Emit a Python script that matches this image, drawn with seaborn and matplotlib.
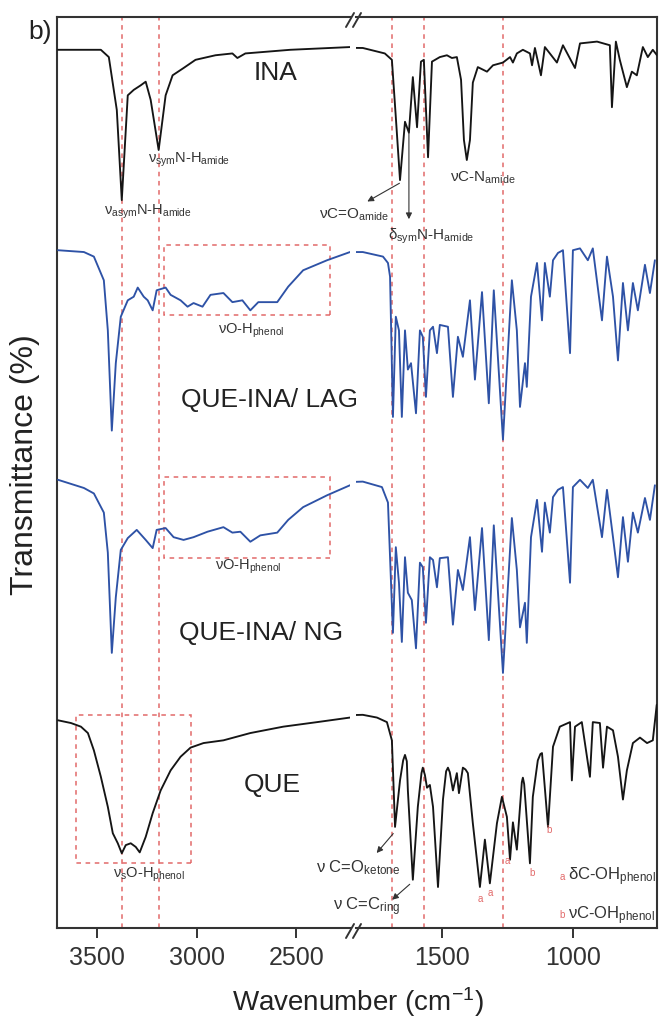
import matplotlib
matplotlib.use('Agg')
import matplotlib.pyplot as plt
from matplotlib.patches import Rectangle
from matplotlib.lines import Line2D
import seaborn as sns

# --- Spectra: wavenumber (cm-1) and stacked transmittance (%) ---
INA_WN = [3695, 3480, 3440, 3400, 3375, 3345, 3315, 3280, 3255, 3230, 3190, 3155, 3120, 3065, 3005,
          2905, 2820, 2795, 2755, 2530, 2230,
          1802, 1718, 1691, 1676, 1660, 1641, 1626, 1611, 1595, 1580, 1569, 1553, 1538, 1508, 1481,
          1462, 1443, 1427, 1416, 1405, 1393, 1382, 1363, 1328, 1305, 1267, 1240, 1229, 1214, 1191,
          1164, 1156, 1145, 1122, 1107, 1061, 1038, 992, 973, 908, 859, 851, 836, 821, 794, 775, 756,
          733, 714, 695, 679]
INA_T = [96.4, 96.4, 95.6, 89.8, 79.9, 91.4, 92.0, 92.5, 92.9, 90.9, 85.4, 91.4, 93.6, 94.4, 95.3,
         95.8, 96.0, 95.5, 96.0, 96.4, 96.7,
         96.6, 96.0, 95.3, 89.0, 82.1, 88.5, 87.3, 93.4, 87.9, 95.1, 95.3, 84.6, 95.1, 95.6, 95.8,
         95.5, 95.6, 93.1, 86.5, 84.3, 86.5, 92.8, 94.5, 94.0, 94.7, 95.0, 95.6, 95.0, 96.0, 96.4,
         96.0, 94.7, 96.6, 93.6, 96.7, 95.0, 96.9, 94.4, 97.1, 97.3, 96.9, 90.1, 97.3, 95.3, 92.3,
         94.0, 93.6, 96.7, 95.6, 96.4, 95.8]

LAG_WN = [3695, 3565, 3515, 3465, 3445, 3425, 3405, 3380, 3345, 3315, 3295, 3265, 3245, 3220, 3200,
          3155, 3130, 3080, 3045, 3015, 2970, 2930, 2865, 2820, 2770, 2730, 2690, 2595, 2540, 2465,
          2345, 2230,
          1802, 1725, 1706, 1698, 1687, 1676, 1664, 1653, 1641, 1630, 1618, 1599, 1584, 1573, 1561,
          1546, 1534, 1519, 1508, 1477, 1458, 1439, 1420, 1393, 1374, 1347, 1321, 1302, 1267, 1233,
          1214, 1202, 1183, 1176, 1160, 1137, 1118, 1107, 1088, 1076, 1057, 1038, 1011, 1000, 973,
          943, 924, 889, 870, 847, 828, 809, 790, 771, 752, 725, 706, 687]
LAG_T = [74.4, 74.2, 73.7, 71.1, 65.6, 54.6, 62.0, 67.1, 68.9, 69.3, 70.3, 69.3, 68.9, 67.8, 70.0,
         70.3, 69.5, 68.9, 68.2, 68.6, 68.2, 69.5, 69.7, 68.7, 68.9, 67.8, 68.7, 68.7, 70.4, 72.2,
         73.3, 74.2,
         74.2, 73.7, 73.0, 71.5, 56.1, 67.1, 65.6, 56.1, 65.6, 61.3, 62.0, 56.5, 65.6, 64.9, 58.3,
         65.6, 66.0, 63.1, 66.2, 66.0, 58.3, 64.9, 62.7, 68.9, 60.2, 69.8, 57.6, 70.0, 53.6, 71.1,
         65.6, 57.2, 62.0, 59.4, 69.3, 73.0, 66.7, 73.0, 69.3, 73.3, 74.1, 74.4, 63.1, 74.4, 74.6,
         73.3, 74.6, 66.7, 73.7, 69.3, 62.3, 70.8, 65.6, 70.8, 67.8, 72.8, 69.7, 73.3]

NG_WN = [3695, 3565, 3515, 3465, 3445, 3425, 3405, 3380, 3345, 3300, 3255, 3220, 3200, 3155, 3115,
         3065, 3015, 2945, 2865, 2820, 2780, 2730, 2680, 2595, 2540, 2465, 2345, 2230,
         1802, 1729, 1706, 1687, 1676, 1664, 1653, 1641, 1630, 1615, 1599, 1584, 1573, 1561, 1546,
         1534, 1519, 1508, 1477, 1458, 1439, 1420, 1393, 1374, 1347, 1321, 1302, 1267, 1233, 1214,
         1202, 1183, 1176, 1160, 1137, 1118, 1107, 1088, 1076, 1057, 1038, 1011, 1000, 973, 943,
         924, 889, 870, 847, 828, 809, 790, 771, 752, 725, 706, 687]
NG_T = [49.2, 48.3, 47.7, 45.6, 41.2, 30.2, 36.3, 41.5, 42.8, 43.7, 42.6, 41.7, 43.7, 43.9, 42.9,
        42.6, 42.9, 43.5, 44.0, 43.4, 43.5, 42.4, 43.1, 43.4, 44.8, 46.2, 47.5, 48.6,
        49.0, 48.4, 46.7, 32.4, 41.8, 37.9, 31.4, 40.7, 36.8, 36.0, 30.7, 40.1, 39.6, 33.5, 40.7,
        40.4, 37.4, 40.6, 40.7, 33.3, 39.3, 37.1, 42.9, 34.9, 43.9, 31.6, 44.2, 28.0, 45.0, 39.3,
        33.0, 35.7, 31.3, 42.9, 47.0, 41.3, 46.7, 43.4, 47.3, 48.1, 48.4, 37.9, 48.4, 49.2, 48.3,
        49.2, 42.9, 48.1, 42.9, 38.5, 45.1, 40.2, 45.6, 43.4, 47.2, 44.8, 48.6]

QUE_WN = [3695, 3630, 3580, 3545, 3515, 3480, 3445, 3420, 3395, 3375, 3355, 3330, 3305, 3285, 3255,
          3220, 3180, 3130, 3080, 3030, 2965, 2865, 2730, 2565, 2395, 2230,
          1802, 1748, 1710, 1691, 1679, 1660, 1648, 1641, 1634, 1630, 1611, 1592, 1578, 1573, 1565,
          1557, 1546, 1534, 1515, 1496, 1484, 1477, 1470, 1458, 1443, 1435, 1420, 1410, 1401, 1382,
          1355, 1336, 1317, 1290, 1271, 1252, 1240, 1229, 1214, 1195, 1191, 1186, 1164, 1153, 1134,
          1124, 1118, 1095, 1076, 1050, 1011, 1004, 992, 966, 935, 924, 897, 885, 870, 847, 828,
          809, 794, 771, 744, 717, 695, 680]
QUE_T = [22.8, 22.5, 22.1, 21.4, 19.5, 16.6, 13.3, 10.4, 9.3, 8.2, 9.1, 9.3, 8.9, 8.3, 10.0,
         12.6, 15.1, 17.3, 18.8, 19.8, 20.3, 20.6, 21.4, 22.1, 22.6, 23.1,
         23.4, 23.1, 22.6, 20.6, 11.1, 16.2, 18.4, 19.0, 18.3, 15.1, 5.3, 13.3, 17.0, 17.6, 16.8,
         15.4, 15.7, 13.3, 4.5, 14.1, 17.2, 17.6, 17.1, 15.1, 17.0, 14.8, 17.6, 17.4, 17.0, 11.5,
         4.5, 9.7, 4.9, 11.5, 14.4, 12.2, 7.5, 11.6, 8.6, 16.0, 16.5, 15.8, 7.1, 14.4, 18.4,
         19.1, 19.2, 11.1, 19.9, 22.1, 22.6, 16.2, 22.1, 22.6, 16.6, 22.6, 22.5, 17.6, 22.1, 21.7, 18.8,
         14.1, 17.3, 20.3, 20.9, 20.3, 20.6, 24.5]

# reference band positions (dashed guides) and x tick labels
BANDS_LEFT = [3375, 3190]
BANDS_RIGHT = [1691, 1570, 1267]
TICKS_LEFT = [3500, 3000, 2500]
TICKS_RIGHT = [1500, 1000]

sns.set_style('ticks')
plt.rcParams['font.family'] = ['Liberation Sans', 'DejaVu Sans']
plt.rcParams['mathtext.default'] = 'regular'

BLACK = '#151515'
BLUE = '#2e52a6'
RED = '#e26a6a'
W, H = 660, 1021

fig = plt.figure(figsize=(6.6, 10.21), dpi=100)
ax_l = fig.add_axes([57 / W, 93 / H, 293 / W, 911 / H])
ax_r = fig.add_axes([356 / W, 93 / H, 301 / W, 911 / H], sharey=ax_l)

spectra = [(INA_WN, INA_T, BLACK), (LAG_WN, LAG_T, BLUE), (NG_WN, NG_T, BLUE), (QUE_WN, QUE_T, BLACK)]
for ax in (ax_l, ax_r):
    for wn, t, c in spectra:
        sns.lineplot(x=wn, y=t, ax=ax, color=c, lw=1.35, sort=False, estimator=None, legend=False,
                     zorder=3, solid_joinstyle='round')

ax_l.set_xlim(3700, 2230)
ax_r.set_xlim(1828, 679)
ax_l.set_ylim(0, 100)

# dashed guides
for b in BANDS_LEFT:
    ax_l.axvline(b, color=RED, ls=(0, (3, 3)), lw=1.1, zorder=1)
for b in BANDS_RIGHT:
    ax_r.axvline(b, color=RED, ls=(0, (3, 3)), lw=1.1, zorder=1)

box_kw = dict(fill=False, edgecolor=RED, ls=(0, (3, 3)), lw=1.1, zorder=2)
ax_l.add_patch(Rectangle((2330, 67.3), 835, 7.7, **box_kw))
ax_l.add_patch(Rectangle((2330, 40.6), 835, 8.9, **box_kw))
ax_l.add_patch(Rectangle((3030, 7.1), 575, 16.3, **box_kw))

# axes styling
for ax in (ax_l, ax_r):
    ax.set_xlabel('')
    ax.set_ylabel('')
    ax.set_yticks([])
    for s in ax.spines.values():
        s.set_linewidth(1.5)
        s.set_color('#333333')
    ax.tick_params(axis='x', direction='out', length=7, width=1.4, labelsize=18, pad=6, colors='#333333')
ax_l.set_xticks(TICKS_LEFT)
ax_r.set_xticks(TICKS_RIGHT)
ax_l.spines['right'].set_visible(False)
ax_r.spines['left'].set_visible(False)
ax_r.tick_params(left=False, labelleft=False)

# break marks
for yc in (20, 931):
    for xc in (350, 357):
        fig.add_artist(Line2D([(xc - 4) / W, (xc + 4) / W], [1 - (yc + 7) / H, 1 - (yc - 7) / H],
                              color='#333333', lw=1.4))

small = 10.5
# INA annotations
ax_l.text(2605, 93.9, 'INA', fontsize=19, ha='center', va='center', color='#222222')
ax_l.text(3245, 84.3, 'ν$_{sym}$N-H$_{amide}$', fontsize=small, ha='left', va='center', color='#333333')
ax_l.text(3465, 78.6, 'ν$_{asym}$N-H$_{amide}$', fontsize=small, ha='left', va='center', color='#333333')
ax_r.text(1702, 78.3, 'νC=O$_{amide}$', fontsize=small + 0.5, ha='right', va='center', color='#333333', clip_on=False)
ax_r.annotate('', xy=(1794, 79.6), xytext=(1653, 81.9),
              arrowprops=dict(arrowstyle='-|>', color='#333333', lw=0.8, mutation_scale=9))
ax_r.text(1706, 75.9, 'δ$_{sym}$N-H$_{amide}$', fontsize=small + 0.5, ha='left', va='center', color='#333333')
ax_r.annotate('', xy=(1626, 77.5), xytext=(1626, 87.6),
              arrowprops=dict(arrowstyle='-|>', color='#333333', lw=0.8, mutation_scale=9))
ax_r.text(1469, 82.4, 'νC-N$_{amide}$', fontsize=small + 0.5, ha='left', va='center', color='#333333')

# co-crystal annotations
ax_l.text(2890, 65.6, 'νO-H$_{phenol}$', fontsize=small, ha='left', va='center', color='#333333')
ax_l.text(3080, 58.0, 'QUE-INA/ LAG', fontsize=19, ha='left', va='center', color='#222222', clip_on=False)
ax_l.text(2905, 39.6, 'νO-H$_{phenol}$', fontsize=small, ha='left', va='center', color='#333333')
ax_l.text(3090, 32.4, 'QUE-INA/ NG', fontsize=19, ha='left', va='center', color='#222222', clip_on=False)

# QUE annotations
ax_l.text(2765, 15.7, 'QUE', fontsize=19, ha='left', va='center', color='#222222')
ax_l.text(3420, 5.8, 'ν$_{s}$O-H$_{phenol}$', fontsize=small, ha='left', va='center', color='#333333')
ax_r.text(1660, 6.6, 'ν C=O$_{ketone}$', fontsize=12, ha='right', va='center', color='#333333', clip_on=False)
ax_r.annotate('', xy=(1756, 8.0), xytext=(1679, 10.6),
              arrowprops=dict(arrowstyle='-|>', color='#333333', lw=0.8, mutation_scale=9))
ax_r.text(1660, 2.3, 'ν C=C$_{ring}$', fontsize=12, ha='right', va='center', color='#333333', clip_on=False)
ax_r.annotate('', xy=(1698, 2.9), xytext=(1615, 5.0),
              arrowprops=dict(arrowstyle='-|>', color='#333333', lw=0.8, mutation_scale=9))
for x, y in [(1355, 3.2), (1317, 3.8), (1250, 7.3)]:
    ax_r.text(x, y, 'a', fontsize=7, color=RED, ha='center', va='center')
for x, y in [(1156, 6.0), (1092, 10.8)]:
    ax_r.text(x, y, 'b', fontsize=7, color=RED, ha='center', va='center')
ax_r.text(1040, 5.6, 'a', fontsize=7, color=RED, ha='center', va='center')
ax_r.text(1020, 5.6, 'δC-OH$_{phenol}$', fontsize=12, ha='left', va='center', color='#333333')
ax_r.text(1040, 1.4, 'b', fontsize=7, color=RED, ha='center', va='center')
ax_r.text(1020, 1.4, 'νC-OH$_{phenol}$', fontsize=12, ha='left', va='center', color='#333333')

# labels
fig.text(40 / W, 1 - 32 / H, 'b)', fontsize=19, ha='center', va='center', color='#222222')
fig.text(25 / W, 1 - 465 / H, 'Transmittance (%)', rotation=90, fontsize=23, ha='center', va='center',
         color='#222222')
fig.text(358 / W, 1 - 1002 / H, 'Wavenumber (cm$^{-1}$)', fontsize=20, ha='center', va='center',
         color='#222222')

fig.savefig('out.png', dpi=100)
